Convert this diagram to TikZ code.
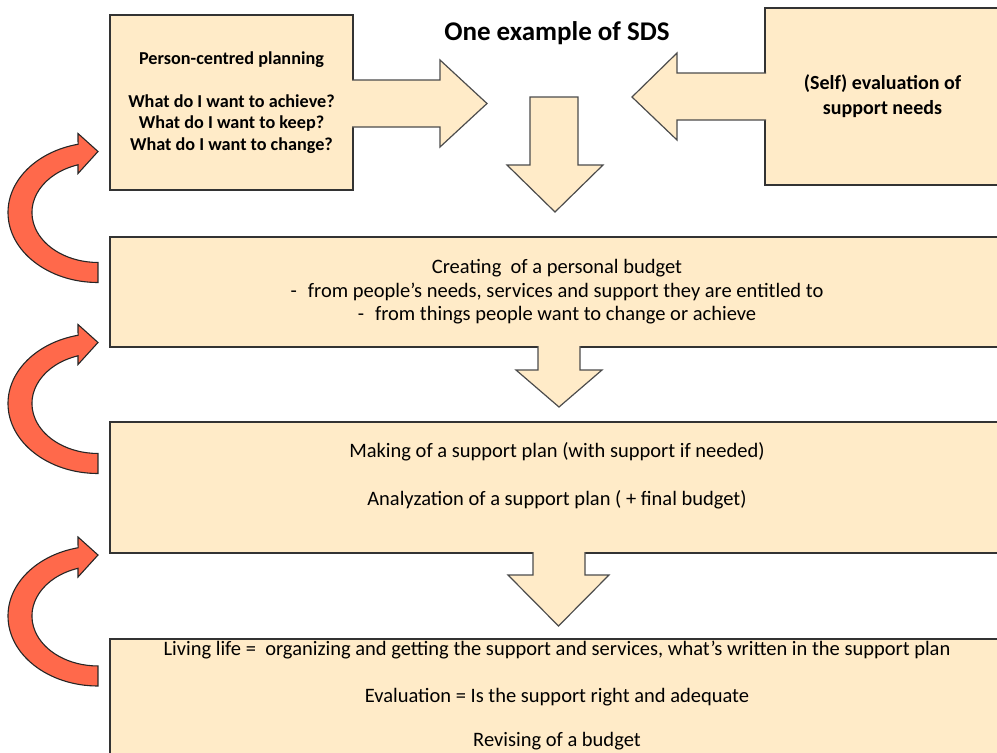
\documentclass[tikz,border=0pt]{standalone}
\usepackage{fontspec}
\setmainfont{Carlito}
\usetikzlibrary{calc}

\definecolor{sdscream}{RGB}{255,235,200}
\definecolor{sdsred}{RGB}{255,105,75}

\begin{document}
\begin{tikzpicture}[x=1pt,y=-1pt,
    stage/.style={draw=black!80, line width=1.3pt, fill=sdscream, inner sep=0pt, outer sep=0pt, align=center},
    blockarrow/.style={draw=black!70, line width=1.2pt, fill=sdscream},
    redarrow/.style={draw=black!85, line width=1.1pt, fill=sdsred},
    plain/.style={font=\fontsize{20.5}{23.5}\selectfont, align=center},
    loopback/.pic={
        \draw[redarrow] (0,70) arc[start angle=90, end angle=257.2, x radius=90, y radius=70]
            -- (-20,-79) -- (0,-61) -- (-20,-39) -- (-20,-47.7)
            arc[start angle=252.4, end angle=90, x radius=66, y radius=50] -- cycle;
    }]

    % Frame
    \useasboundingbox (0,0) rectangle (997,753);
    \clip (0,0) rectangle (997,753);

    % Title
    \node[font=\bfseries\fontsize{27}{30}\selectfont] (title) at (557,33) {One example of SDS};

    % Person-centred planning
    \node[stage, minimum width=243pt, minimum height=175pt, font=\bfseries\fontsize{18.2}{21.5}\selectfont] (pcp) at (231.5,102.5)
        {Person-centred planning\\[21.5pt]What do I want to achieve?\\What do I want to keep?\\What do I want to change?};
    \draw[blockarrow] ($(pcp.east)+(-1,-22.5)$) -- ++(88,0) -- ++(0,-20) -- ++(47,43.5) -- ++(-47,43.5) -- ++(0,-20) -- ++(-88,0);

    % (Self) evaluation
    \node[stage, minimum width=235pt, minimum height=177pt, font=\bfseries\fontsize{20}{25}\selectfont] (selfeval) at (882.5,96.5)
        {(Self) evaluation of\\support needs};
    \draw[blockarrow] ($(selfeval.west)+(1,-23.5)$) -- ++(-89,0) -- ++(0,-20) -- ++(-45,44) -- ++(45,43) -- ++(0,-20) -- ++(89,0);

    % Both lead down
    \coordinate (merge) at (554,97);
    \draw[blockarrow] ($(merge)+(-24,0)$) -- ++(48,0) -- ++(0,68) -- ++(25,0) -- ++(-48,47) -- ++(-48,-47) -- ++(23,0) -- cycle;

    % Personal budget
    \node[stage, plain, minimum width=894pt, minimum height=110pt] (budget) at (557,292)
        {Creating~ of a personal budget\\
         -\hspace{11pt}from people’s needs, services and support they are entitled to\\
         -\hspace{11pt}from things people want to change or achieve};
    \draw[blockarrow] ($(budget.south)+(-19,-1)$) -- ++(0,24) -- ++(-22,0) -- ++(43,37) -- ++(43,-37) -- ++(-22,0) -- ++(0,-24);

    % Support plan
    \node[stage, minimum width=894pt, minimum height=131pt] (plan) at (557,487.5) {};
    \node[plain] (plantext) at (557,476)
        {Making of a support plan (with support if needed)\\[24pt]Analyzation of a support plan ( + final budget)};
    \draw[blockarrow] ($(plan.south)+(-24,-1)$) -- ++(0,23) -- ++(-25,0) -- ++(50.5,51) -- ++(50.5,-51) -- ++(-24,0) -- ++(0,-23);

    % Living life
    \node[stage, minimum width=894pt, minimum height=120pt] (life) at (557,699) {};
    \node[plain] (lifetext) at (557,696)
        {Living life =~ organizing and getting the support and services, what’s written in the support plan\\[23pt]
         Evaluation = Is the support right and adequate\\[21pt]
         Revising of a budget};

    % Loops back
    \pic at (98,212.5) {loopback};
    \pic at (98,403.5) {loopback};
    \pic at (98,616) {loopback};

\end{tikzpicture}
\end{document}
